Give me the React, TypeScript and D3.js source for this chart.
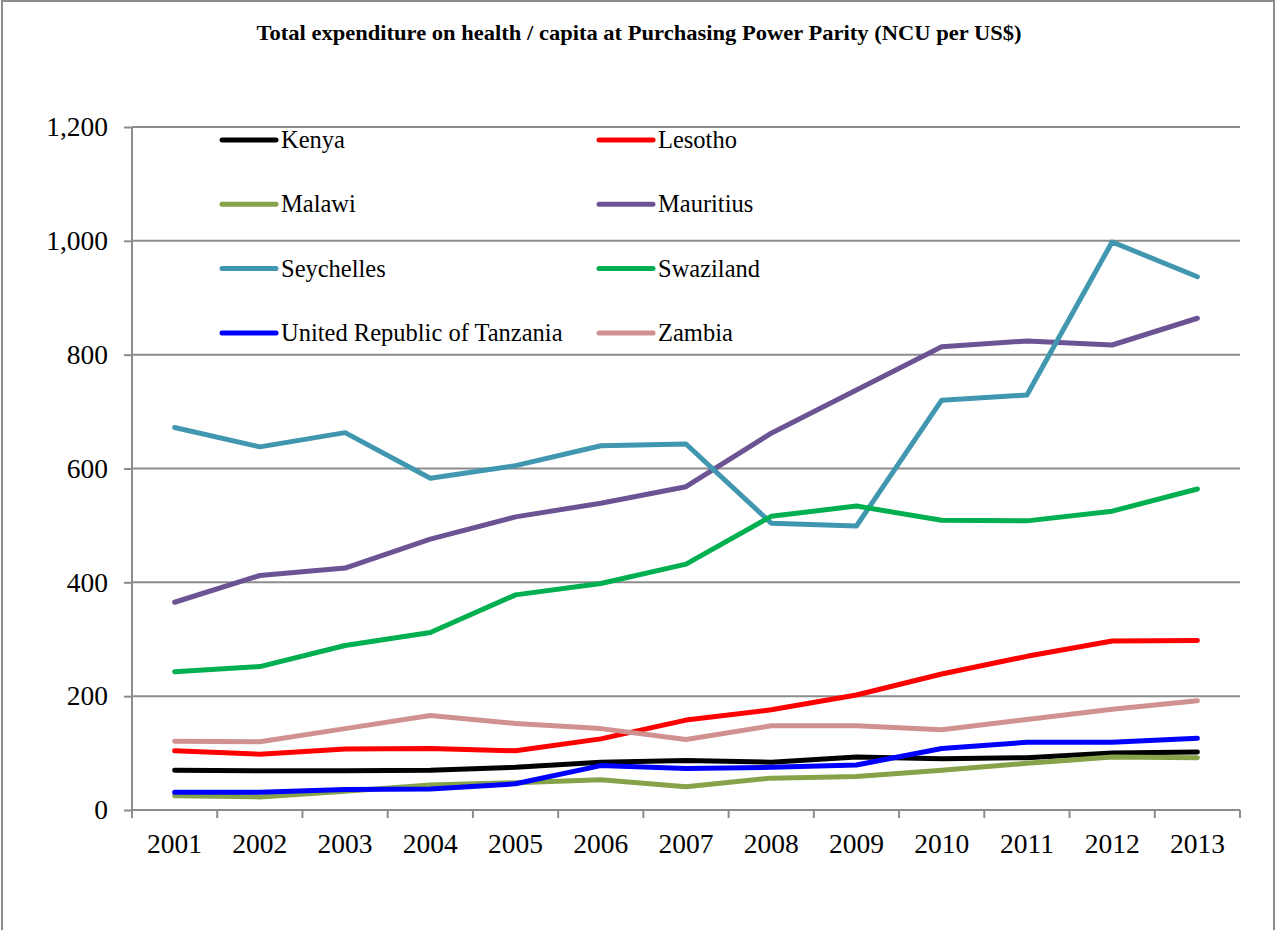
import React, { useRef, useEffect } from 'react'
import { select, scaleBand, scaleLinear, axisLeft, axisBottom, line, format } from 'd3'

const years = ['2001', '2002', '2003', '2004', '2005', '2006', '2007', '2008', '2009', '2010', '2011', '2012', '2013']
const yTicks = [0, 200, 400, 600, 800, 1000, 1200]

const kenya = [70, 69, 69, 70, 75, 84, 87, 84, 93, 90, 92, 100, 102]
const lesotho = [104, 98, 107, 108, 104, 125, 158, 176, 202, 239, 270, 297, 298]
const malawi = [25, 23, 33, 44, 48, 53, 41, 56, 59, 70, 82, 93, 92]
const mauritius = [365, 412, 425, 476, 515, 539, 568, 662, 738, 814, 824, 817, 864]
const seychelles = [672, 638, 663, 583, 605, 640, 643, 504, 499, 720, 729, 998, 937]
const swaziland = [243, 252, 289, 312, 378, 398, 432, 516, 534, 509, 508, 525, 564]
const tanzania = [31, 31, 36, 37, 46, 78, 73, 75, 79, 108, 119, 119, 126]
const zambia = [121, 120, 143, 166, 152, 143, 124, 148, 148, 141, 159, 177, 192]

const series = [
  { name: 'Kenya', color: '#000000', values: kenya },
  { name: 'Lesotho', color: '#ff0000', values: lesotho },
  { name: 'Malawi', color: '#86a34a', values: malawi },
  { name: 'Mauritius', color: '#6c5393', values: mauritius },
  { name: 'Seychelles', color: '#4197b0', values: seychelles },
  { name: 'Swaziland', color: '#00b050', values: swaziland },
  { name: 'United Republic of Tanzania', color: '#0000ff', values: tanzania },
  { name: 'Zambia', color: '#d09191', values: zambia },
]

const W = 1276
const H = 930
const FONT = '"Liberation Serif", "Times New Roman", serif'

export default function App() {
  const canvas = useRef(null)

  useEffect(() => {
    const svg = select(canvas.current)
    svg.selectAll('*').remove()

    const left = 132, right = 1240, top = 127, bottom = 810
    const x = scaleBand().domain(years).range([left, right])
    const y = scaleLinear().domain([0, 1200]).range([bottom, top])
    const grey = '#8c8c8c'

    // outer frame
    svg.append('rect').attr('x', 2).attr('y', 1).attr('width', 1272).attr('height', H + 10)
      .attr('fill', 'white').attr('stroke', grey).attr('stroke-width', 2)

    svg.append('text').attr('x', 639).attr('y', 40).attr('text-anchor', 'middle')
      .attr('font-family', FONT).attr('font-weight', 'bold').attr('font-size', 21)
      .attr('textLength', 765).attr('lengthAdjust', 'spacingAndGlyphs')
      .text('Total expenditure on health / capita at Purchasing Power Parity (NCU per US$)')

    // gridlines
    svg.append('g').selectAll('line').data(yTicks.filter(d => d > 0)).join('line')
      .attr('x1', left).attr('x2', right).attr('y1', d => y(d)).attr('y2', d => y(d))
      .attr('stroke', grey).attr('stroke-width', 2)

    const yAxis = svg.append('g').attr('transform', `translate(${left},0)`)
      .call(axisLeft(y).tickValues(yTicks).tickSize(8).tickPadding(16).tickFormat(format(',')))
    yAxis.select('.domain').attr('stroke', grey).attr('stroke-width', 2).attr('d', `M0,${top}V${bottom + 8}`)
    yAxis.selectAll('line').attr('stroke', grey).attr('stroke-width', 2)
    yAxis.selectAll('text').attr('font-family', FONT).attr('font-size', 27.5).attr('fill', '#000')

    const xAxis = svg.append('g').attr('transform', `translate(0,${bottom})`)
      .call(axisBottom(x).tickSize(0).tickPadding(23))
    xAxis.select('.domain').attr('stroke', grey).attr('stroke-width', 2).attr('d', `M${left},0H${right}`)
    xAxis.selectAll('text').attr('font-family', FONT).attr('font-size', 27.5).attr('fill', '#000')

    const bounds = years.map(d => x(d)).concat([right])
    svg.append('g').selectAll('line').data(bounds).join('line')
      .attr('x1', d => d).attr('x2', d => d).attr('y1', bottom).attr('y2', bottom + 8)
      .attr('stroke', grey).attr('stroke-width', 2)

    const lineGen = line().x((d, i) => x(years[i]) + x.bandwidth() / 2).y(d => y(d))

    svg.append('g').selectAll('path').data(series).join('path')
      .attr('d', d => lineGen(d.values)).attr('fill', 'none')
      .attr('stroke', d => d.color).attr('stroke-width', 5)
      .attr('stroke-linecap', 'round').attr('stroke-linejoin', 'round')

    // legend, two columns
    const lg = svg.append('g').selectAll('g').data(series).join('g')
      .attr('transform', (d, i) => `translate(${i % 2 === 0 ? 222 : 599},${140 + Math.floor(i / 2) * 64.3})`)
    lg.append('line').attr('x1', 0).attr('x2', 54).attr('stroke', d => d.color)
      .attr('stroke-width', 5).attr('stroke-linecap', 'round')
    lg.append('text').attr('x', 59).attr('dy', '0.33em').attr('font-family', FONT)
      .attr('font-size', 24.5).text(d => d.name)
  })

  return (
    <svg ref={canvas} width={W} height={H} style={{ position: 'absolute', left: 0, top: 0 }} />
  )
}
